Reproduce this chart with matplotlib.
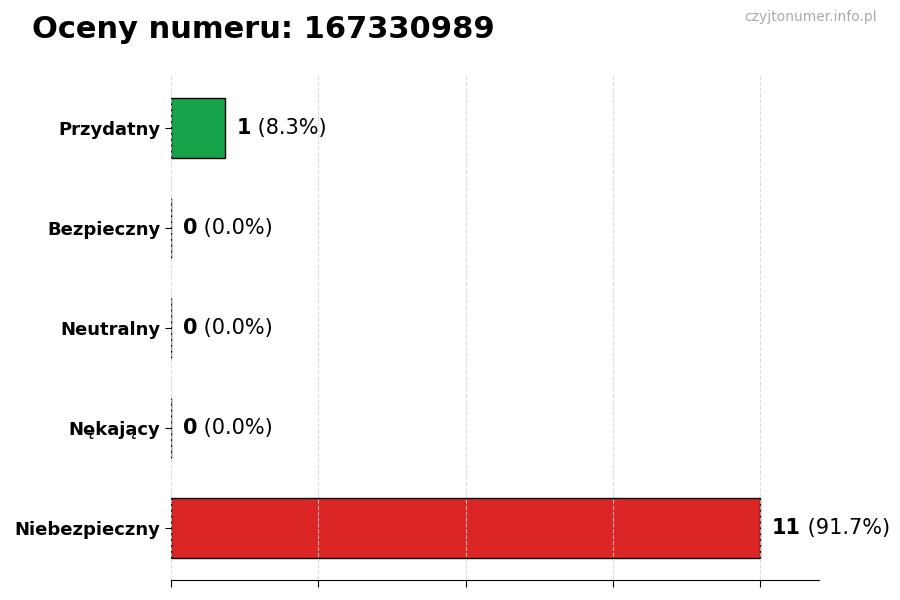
import matplotlib
matplotlib.use("Agg")
import matplotlib.pyplot as plt

categories = ["Przydatny", "Bezpieczny", "Neutralny", "Nękający", "Niebezpieczny"]
counts = [1, 0, 0, 0, 11]
percents = [8.3, 0.0, 0.0, 0.0, 91.7]
colors = ["#16a34a", "#9ca3af", "#3b82f6", "#f59e0b", "#dc2626"]
xticks = [0, 2.75, 5.5, 8.25, 11]

fig = plt.figure(figsize=(9, 6), dpi=100)
ax = fig.add_axes([0.19, 0.0333, 0.72, 0.8417])

ypos = list(range(len(categories)))
ax.barh(ypos, counts, height=0.6, color=colors, edgecolor="black", linewidth=1, zorder=1)

maxv = max(counts)
ax.set_xlim(0, maxv * 1.1)
ax.set_ylim(4.525, -0.525)
ax.set_yticks(ypos)
ax.set_yticklabels(categories, fontsize=13, fontweight="bold")
ax.set_xticks(xticks)
ax.set_xticklabels([])
ax.grid(axis="x", linestyle="--", color="lightgray", alpha=0.8, zorder=2)
ax.set_axisbelow(False)
for s in ["top", "right", "left"]:
    ax.spines[s].set_visible(False)
ax.tick_params(axis="x", length=5)
ax.tick_params(axis="y", length=4)

for y, c, p in zip(ypos, counts, percents):
    t = ax.text(c + maxv * 0.02, y, f"{c}", fontsize=15, fontweight="bold", va="center", ha="left", zorder=3)
    ax.annotate(f" ({p:.1f}%)", xy=(1, 0.5), xycoords=t, fontsize=15, va="center", ha="left")

fig.text(0.036, 0.95, "Oceny numeru: 167330989", fontsize=22, fontweight="bold", va="center", ha="left")
fig.text(0.974, 0.972, "czyjtonumer.info.pl", fontsize=10, color="#aaaaaa", va="center", ha="right")

fig.savefig("out.png", dpi=100)
